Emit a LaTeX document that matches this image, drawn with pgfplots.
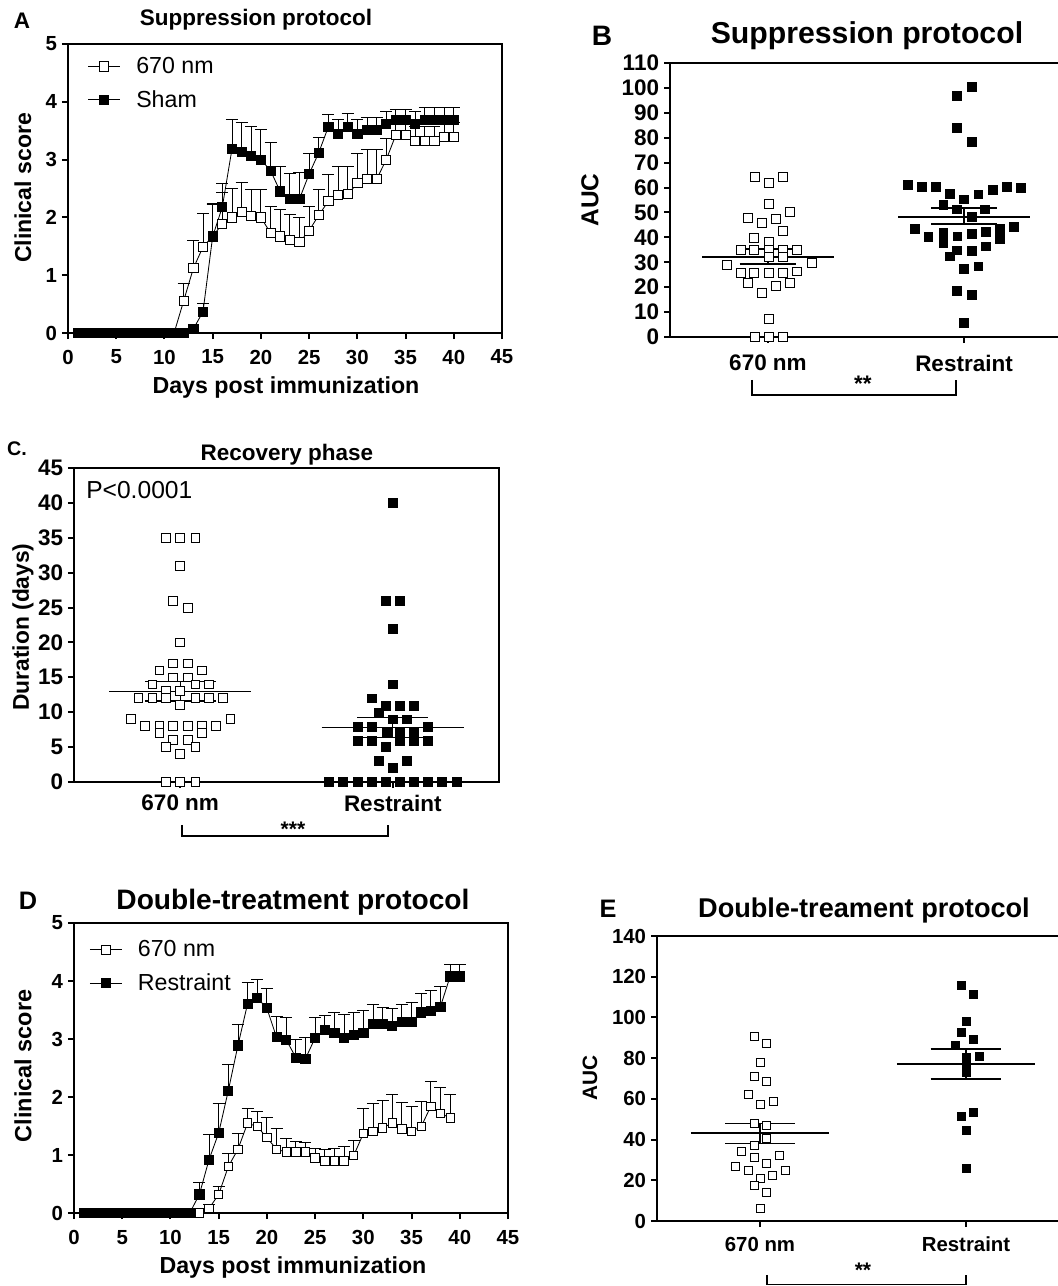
\documentclass[border=0pt]{standalone}
\usepackage{pgfplots}
\pgfplotsset{compat=1.18}
\usepackage{pgfplotstable}
\usepackage{fontspec}
\setmainfont{Liberation Sans}
\newcommand\fs[1]{\fontsize{#1}{#1}\selectfont}

% Panel A: Suppression protocol, 670 nm
\pgfplotstableread{
x y e
1 0 0
2 0 0
3 0 0
4 0 0
5 0 0
6 0 0
7 0 0
8 0 0
9 0 0
10 0 0
11 0 0
12 0.56 0.29
13 1.12 0.49
14 1.49 0.58
15 1.67 0.58
16 1.89 0.55
17 2.00 0.50
18 2.10 0.50
19 2.02 0.46
20 2.00 0.48
21 1.73 0.46
22 1.67 0.46
23 1.61 0.44
24 1.57 0.43
25 1.77 0.42
26 2.04 0.44
27 2.28 0.47
28 2.39 0.50
29 2.40 0.49
30 2.59 0.52
31 2.66 0.51
32 2.66 0.51
33 3.00 0.36
34 3.43 0.22
35 3.43 0.22
36 3.33 0.25
37 3.33 0.25
38 3.33 0.25
39 3.39 0.25
40 3.39 0.25
}\Aopen
% Panel A: Sham
\pgfplotstableread{
x y e
1 0 0
2 0 0
3 0 0
4 0 0
5 0 0
6 0 0
7 0 0
8 0 0
9 0 0
10 0 0
11 0 0
12 0 0
13 0.07 0
14 0.37 0.15
15 1.67 0.55
16 2.18 0.41
17 3.18 0.52
18 3.13 0.51
19 3.06 0.52
20 3.00 0.53
21 2.81 0.49
22 2.45 0.44
23 2.32 0.44
24 2.32 0.46
25 2.75 0.36
26 3.12 0.27
27 3.57 0.21
28 3.44 0.25
29 3.57 0.23
30 3.44 0.25
31 3.51 0.22
32 3.51 0.22
33 3.62 0.22
34 3.69 0.18
35 3.69 0.18
36 3.62 0.22
37 3.69 0.21
38 3.69 0.21
39 3.69 0.21
40 3.69 0.21
}\Afill
% Panel D: 670 nm
\pgfplotstableread{
x y e
1 0 0
2 0 0
3 0 0
4 0 0
5 0 0
6 0 0
7 0 0
8 0 0
9 0 0
10 0 0
11 0 0
12 0 0
13 0.00 0
14 0.08 0.06
15 0.32 0.14
16 0.80 0.23
17 1.10 0.27
18 1.55 0.26
19 1.49 0.26
20 1.30 0.34
21 1.10 0.35
22 1.05 0.23
23 1.05 0.19
24 1.05 0.16
25 0.95 0.17
26 0.90 0.20
27 0.90 0.22
28 0.90 0.25
29 0.99 0.26
30 1.37 0.44
31 1.41 0.48
32 1.47 0.47
33 1.55 0.49
34 1.45 0.46
35 1.41 0.42
36 1.49 0.44
37 1.84 0.43
38 1.72 0.45
39 1.64 0.40
}\Dopen
% Panel D: Restraint
\pgfplotstableread{
x y e
1 0 0
2 0 0
3 0 0
4 0 0
5 0 0
6 0 0
7 0 0
8 0 0
9 0 0
10 0 0
11 0 0
12 0 0
13 0.32 0.20
14 0.92 0.43
15 1.38 0.51
16 2.11 0.46
17 2.89 0.37
18 3.61 0.37
19 3.71 0.32
20 3.53 0.35
21 3.03 0.36
22 2.99 0.39
23 2.68 0.31
24 2.66 0.36
25 3.02 0.36
26 3.15 0.25
27 3.11 0.34
28 3.02 0.40
29 3.07 0.39
30 3.10 0.40
31 3.26 0.33
32 3.26 0.29
33 3.23 0.30
34 3.30 0.29
35 3.30 0.33
36 3.46 0.33
37 3.49 0.34
38 3.56 0.35
39 4.08 0.20
40 4.08 0.20
}\Dfill

\pgfplotsset{
  gp/.style={scale only axis, clip=false,
    axis line style={line width=1.4pt},
    every tick/.style={line width=1.4pt, black},
    tick align=outside, tick pos=left, major tick length=1.5mm,
    /pgf/number format/assume math mode=true,
    ticklabel style={font=\bfseries\fs{14.5}}},
  ln/.style={black, line width=0.6pt,
    error bars/y dir=plus, error bars/y explicit,
    error bars/error bar style={line width=0.6pt},
    error bars/error mark options={rotate=90, mark size=1.5mm, line width=0.6pt}},
  openmk/.style={mark=square*, mark options={fill=white, draw=black, line width=0.6pt, solid}},
  fillmk/.style={mark=square*, mark options={fill=black, draw=black, solid}},
  lg/.style={legend style={draw=none, fill=none, font=\fs{16.5}, legend cell align=left,
      row sep=6.5pt, inner sep=0pt,
      /tikz/every odd column/.append style={column sep=3.2mm}},
    legend image code/.code={\draw[##1, mark repeat=2, mark phase=2] plot coordinates {(0mm,0mm) (4mm,0mm) (8mm,0mm)};}},
}

\begin{document}
\begin{tikzpicture}
\useasboundingbox (0,0) rectangle (264.25mm,-321.5mm);

% ---------- A ----------
\begin{axis}[gp, lg, at={(17mm,-83.25mm)}, anchor=south west, width=108.5mm, height=72.25mm,
  xmin=0, xmax=45, ymin=0, ymax=5, xtick={0,5,...,45}, ytick={0,1,...,5},
  xticklabel style={yshift=-1.5mm},
  legend style={at={(0.045,0.965)}, anchor=north west}]
\addplot[ln, openmk, mark size=1.15mm] table[x=x, y=y, y error=e] {\Aopen};
\addlegendentry{670 nm}
\addplot[ln, fillmk, mark size=1.15mm] table[x=x, y=y, y error=e] {\Afill};
\addlegendentry{Sham}
\end{axis}

% ---------- B ----------
\begin{axis}[gp, at={(167.5mm,-84.25mm)}, anchor=south west, width=98mm, height=68.5mm,
  xmin=0.5, xmax=2.5, ymin=0, ymax=110, ytick={0,10,...,110},
  xtick={1,2}, xticklabels={670 nm, Restraint},
  ticklabel style={font=\bfseries\fs{16}}, xticklabel style={yshift=-1.75mm}]
\addplot[only marks, openmk, mark size=1.1mm] coordinates {
(0.934,64.2)(1.005,61.8)(1.077,64.2)(1.005,53.4)(0.898,47.8)(0.969,45.8)(1.041,47.4)(1.112,50.2)
(1.077,42.6)(0.929,39.7)(1.005,38.1)
(0.862,35.0)(0.929,35.0)(1.005,35.0)(1.077,35.0)(1.148,35.0)
(1.005,32.0)(1.077,32.0)
(0.791,28.9)(1.224,29.7)
(0.862,25.7)(0.929,25.7)(1.005,25.7)(1.077,25.7)(1.148,26.3)
(0.898,21.7)(1.041,20.5)(1.112,21.7)
(0.969,17.7)(1.005,7.4)
(0.934,0)(1.005,0)(1.077,0)};
\addplot[only marks, fillmk, mark size=1.1mm] coordinates {
(2.039,100.4)(1.963,96.7)(1.963,83.9)(2.039,78.3)
(1.712,61.2)(1.784,60.2)(1.857,60.2)(1.928,57.6)(2.073,57.3)(2.147,59.2)(2.218,60.2)(2.290,60.0)
(2.000,55.3)(1.894,53.1)(1.963,51.3)(2.107,51.3)(2.039,48.2)
(1.750,43.5)(2.252,44.2)(2.184,43.5)(1.894,41.8)(2.039,41.5)(2.112,42.2)(1.818,40.2)(1.966,40.4)(2.184,39.5)
(1.894,37.8)(2.112,36.4)(1.963,34.8)(2.039,34.5)(1.928,32.4)
(2.000,27.4)(2.073,28.4)(1.963,18.7)(2.039,17.0)(2.000,5.6)};
% mean and SEM
\addplot[black, line width=1.5pt] coordinates {(0.665,32.2)(1.335,32.2)};
\addplot[black, line width=1.5pt] coordinates {(0.855,35.2)(1.145,35.2)};
\addplot[black, line width=1.5pt] coordinates {(0.855,29.2)(1.145,29.2)};
\addplot[black, line width=1.5pt] coordinates {(1,29.2)(1,35.2)};
\addplot[black, line width=1.5pt] coordinates {(1.664,48.3)(2.336,48.3)};
\addplot[black, line width=1.5pt] coordinates {(1.834,51.9)(2.166,51.9)};
\addplot[black, line width=1.5pt] coordinates {(1.834,45.5)(2.166,45.5)};
\addplot[black, line width=1.5pt] coordinates {(2,45.5)(2,51.9)};
\end{axis}

% ---------- C ----------
\begin{axis}[gp, at={(18.5mm,-195.5mm)}, anchor=south west, width=106.25mm, height=78.5mm,
  xmin=0.5, xmax=2.5, ymin=0, ymax=45, ytick={0,5,...,45},
  xtick={1,2}, xticklabels={670 nm, Restraint},
  ticklabel style={font=\bfseries\fs{16}}, xticklabel style={yshift=-0.5mm}]
\addplot[only marks, openmk, mark size=1.1mm] coordinates {
(0.934,35)(1,35)(1.071,35)(1,31)(0.967,26)(1.036,25)(1,20)(0.967,17)(1.036,17)
(0.902,16)(1.102,16)(0.967,15)(1.036,15)(0.869,14)(1.071,14)(1.134,14)(0.934,13)(1,13)
(0.803,12)(0.869,12)(0.934,12)(1.071,12)(1.134,12)(1.202,12)(1,11)(0.769,9)(1.236,9)
(0.835,8)(0.902,8)(0.967,8)(1.036,8)(1.102,8)(1.169,8)(0.902,7)(1.102,7)(0.967,6)(1.036,6)
(0.934,5)(1.071,5)(1,4)(0.934,0)(1,0)(1.071,0)};
\addplot[only marks, fillmk, mark size=1.1mm] coordinates {
(2,40)(1.967,26)(2.033,26)(2,22)(2,14)(1.90,12)(1.967,10.9)(2.033,10.9)(2.10,10.9)(1.934,9.9)
(2,9)(2.066,9)(1.834,7.9)(1.90,7.9)(2.166,7.9)(1.972,7.2)(2.033,7.2)(2.10,7.2)
(1.834,5.9)(1.90,5.9)(2.033,5.9)(2.10,5.9)(2.166,5.9)(1.967,5)(1.934,3)(2.066,3)(2,2)
(1.70,0)(1.763,0)(1.834,0)(1.90,0)(1.967,0)(2.033,0)(2.10,0)(2.166,0)(2.232,0)(2.303,0)};
\addplot[black, line width=0.9pt] coordinates {(0.665,13.0)(1.335,13.0)};
\addplot[black, line width=0.9pt] coordinates {(0.833,14.4)(1.167,14.4)};
\addplot[black, line width=0.9pt] coordinates {(0.833,11.6)(1.167,11.6)};
\addplot[black, line width=0.9pt] coordinates {(1,11.6)(1,14.4)};
\addplot[black, line width=0.9pt] coordinates {(1.665,7.8)(2.335,7.8)};
\addplot[black, line width=0.9pt] coordinates {(1.833,9.2)(2.167,9.2)};
\addplot[black, line width=0.9pt] coordinates {(1.833,6.4)(2.167,6.4)};
\addplot[black, line width=0.9pt] coordinates {(2,6.4)(2,9.2)};
\end{axis}

% ---------- D ----------
\begin{axis}[gp, lg, at={(18.5mm,-303.25mm)}, anchor=south west, width=108.5mm, height=72.5mm,
  xmin=0, xmax=45, ymin=0, ymax=5, xtick={0,5,...,45}, ytick={0,1,...,5},
  xticklabel style={yshift=-1.5mm},
  legend style={at={(0.035,0.95)}, anchor=north west}]
\addplot[ln, openmk, mark size=1.05mm] table[x=x, y=y, y error=e] {\Dopen};
\addlegendentry{670 nm}
\addplot[ln, fillmk, mark size=1.15mm] table[x=x, y=y, y error=e] {\Dfill};
\addlegendentry{Restraint}
\end{axis}

% ---------- E ----------
\begin{axis}[gp, at={(164.25mm,-305.25mm)}, anchor=south west, width=103mm, height=71.25mm,
  xmin=0.5, xmax=2.5, ymin=0, ymax=140, ytick={0,20,...,140},
  xtick={1,2}, xticklabels={670 nm, Restraint},
  ticklabel style={font=\bfseries\fs{14.5}}, xticklabel style={yshift=-1.25mm}]
\addplot[only marks, openmk, mark size=1.0mm] coordinates {
(0.972,90.9)(1.032,87.2)(1.003,77.9)(0.972,71.1)(1.032,68.4)(0.943,62.3)(1.065,58.9)(1.003,57.4)
(0.972,47.9)(1.032,47.1)(1.032,40.6)(0.972,37.0)(0.911,34.3)(0.972,31.1)(1.092,32.1)
(0.879,27.0)(1.032,28.3)(0.943,24.7)(1.121,24.7)(1.003,20.9)(1.061,22.2)(0.972,17.7)(1.032,14.1)(1.003,6.2)};
\addplot[only marks, fillmk, mark size=1.0mm] coordinates {
(1.976,115.8)(2.036,111.4)(2.003,98.1)(1.976,92.9)(2.036,89.1)(1.947,86.4)(2.003,80.6)(2.065,81.1)
(2.003,77.7)(2.003,73.3)(2.036,53.2)(1.976,51.5)(2.003,44.7)(2.003,25.8)};
\addplot[black, line width=1.3pt] coordinates {(0.664,43.3)(1.336,43.3)};
\addplot[black, line width=1.3pt] coordinates {(0.832,47.9)(1.168,47.9)};
\addplot[black, line width=1.3pt] coordinates {(0.832,38.1)(1.168,38.1)};
\addplot[black, line width=1.3pt] coordinates {(1,38.1)(1,47.9)};
\addplot[black, line width=1.3pt] coordinates {(1.664,77.3)(2.336,77.3)};
\addplot[black, line width=1.3pt] coordinates {(1.828,84.7)(2.172,84.7)};
\addplot[black, line width=1.3pt] coordinates {(1.828,69.7)(2.172,69.7)};
\addplot[black, line width=1.3pt] coordinates {(2,69.7)(2,84.7)};
\end{axis}

% ---------- annotations (pixel coordinates, y down) ----------
\begin{scope}[x=0.25mm, y=-0.25mm, every node/.style={inner sep=0pt}]
% A
\node at (22,21) {\bfseries\fs{16}A};
\node at (256,20) {\bfseries\fs{16}Suppression protocol};
\node[rotate=90] at (23,188) {\bfseries\fs{16.4}Clinical score};
\node at (286,388) {\bfseries\fs{16.5}Days post immunization};
% B
\node at (602,36) {\bfseries\fs{20}B};
\node at (867,36) {\bfseries\fs{21.5}Suppression protocol};
\node[rotate=90] at (590,200) {\bfseries\fs{17.4}AUC};
\draw[line width=1.4pt] (752,380) -- (752,395) -- (956,395) -- (956,380);
\node at (863,384) {\bfseries\fs{16}**};
% C
\node at (17,449) {\bfseries\fs{14}C.};
\node at (287,455) {\bfseries\fs{16}Recovery phase};
\node[rotate=90] at (23,627) {\bfseries\fs{16.2}Duration (days)};
\node[anchor=west] at (86,490) {\fs{17.5}P<0.0001};
\draw[line width=0.9pt] (182,825) -- (182,836) -- (388,836) -- (388,825);
\node at (293,829) {\bfseries\fs{15}***};
% D
\node at (28,901) {\bfseries\fs{18}D};
\node at (293,902) {\bfseries\fs{20}Double-treatment protocol};
\node[rotate=90] at (23,1066) {\bfseries\fs{16.7}Clinical score};
\node at (293,1268) {\bfseries\fs{16.5}Days post immunization};
% E
\node at (608,909) {\bfseries\fs{18}E};
\node at (864,910) {\bfseries\fs{19.3}Double-treament protocol};
\node[rotate=90] at (590,1078) {\bfseries\fs{14.8}AUC};
\draw[line width=1.2pt] (767,1275) -- (767,1284.5) -- (966,1284.5) -- (966,1275);
\node at (863,1270) {\bfseries\fs{15}**};
\end{scope}
\end{tikzpicture}
\end{document}
